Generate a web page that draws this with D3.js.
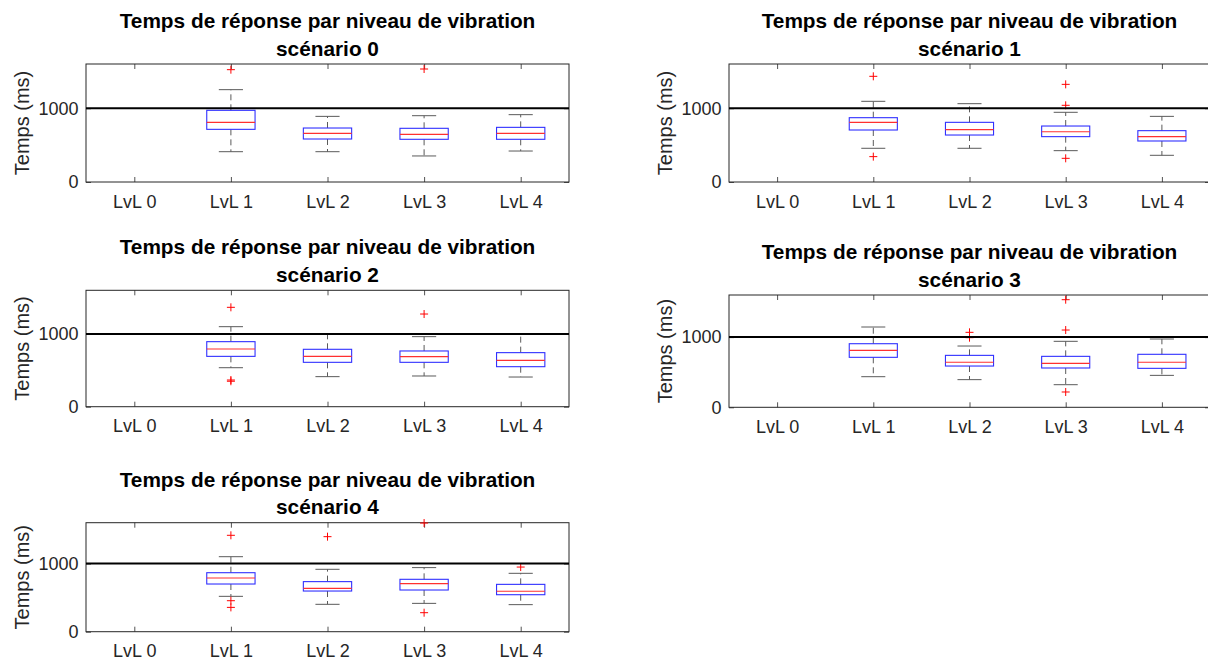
<html>
<head>
<meta charset="utf-8">
<script src="https://d3js.org/d3.v7.min.js"></script>
<style>
body { margin: 0; background: #fff; }
text { font-family: "Liberation Sans", Arial, Helvetica, sans-serif; }
</style>
</head>
<body>
<div id="chart"></div>
<script>
// categories and titles
const levels = ["LvL 0", "LvL 1", "LvL 2", "LvL 3", "LvL 4"];
const titleLine = "Temps de réponse par niveau de vibration";
const scenarioNames = ["scénario 0", "scénario 1", "scénario 2", "scénario 3", "scénario 4"];
const yTicks = [0, 1000];
const yMax = 1600;
const threshold = 1000;

// box statistics, one row per scenario, one value per level (LvL 0 is empty)
const whiskerLow = [
  [null, 411, 411, 353, 420],
  [null, 457, 457, 425, 362],
  [null, 536, 413, 422, 408],
  [null, 436, 394, 322, 455],
  [null, 519, 402, 416, 397]
];
const q1 = [
  [null, 714, 583, 579, 579],
  [null, 705, 637, 615, 556],
  [null, 692, 610, 610, 550],
  [null, 712, 588, 560, 555],
  [null, 700, 597, 612, 543]
];
const median = [
  [null, 809, 660, 646, 660],
  [null, 809, 710, 682, 615],
  [null, 793, 692, 688, 637],
  [null, 811, 641, 626, 641],
  [null, 788, 636, 705, 593]
];
const q3 = [
  [null, 972, 732, 728, 741],
  [null, 872, 809, 759, 696],
  [null, 894, 789, 766, 743],
  [null, 906, 740, 726, 755],
  [null, 866, 735, 769, 695]
];
const whiskerHigh = [
  [null, 1252, 890, 899, 913],
  [null, 1094, 1062, 945, 890],
  [null, 1100, 1000, 963, 1000],
  [null, 1144, 873, 940, 973],
  [null, 1101, 916, 941, 857]
];
const outliers = [
  [[], [1523], [], [1532], []],
  [[], [1433, 344], [], [1324, 1040, 321], []],
  [[], [1366, 367, 350], [], [1274], []],
  [[], [], [1068, 992], [1533, 1101, 218], []],
  [[], [1415, 455, 357], [1395], [1595, 279], [949]]
];

// subplot placement (pixels)
const panels = [
  {left: 86,  right: 569,  top: 64,    bottom: 182},
  {left: 729, right: 1210, top: 64,    bottom: 182},
  {left: 86,  right: 569,  top: 290.3, bottom: 406.7},
  {left: 729, right: 1210, top: 295,   bottom: 407.3},
  {left: 86,  right: 569,  top: 522.7, bottom: 631.7}
];

const w = 1208, h = 660;
const axisColor = "#262626";

const svg = d3.select("#chart").append("svg")
  .attr("width", w)
  .attr("height", h);

panels.forEach((p, s) => {
  const x = d3.scaleLinear().domain([0.5, levels.length + 0.5]).range([p.left, p.right]);
  const y = d3.scaleLinear().domain([0, yMax]).range([p.bottom, p.top]);
  const unit = x(2) - x(1);
  const g = svg.append("g");

  // x axes (inward ticks top and bottom)
  const xb = g.append("g")
    .attr("transform", `translate(0,${p.bottom})`)
    .call(d3.axisBottom(x).tickValues(d3.range(1, levels.length + 1))
      .tickFormat(i => levels[i - 1]).tickSize(-5).tickPadding(12.8));
  const xt = g.append("g")
    .attr("transform", `translate(0,${p.top})`)
    .call(d3.axisTop(x).tickValues(d3.range(1, levels.length + 1))
      .tickFormat("").tickSize(-5));
  const yl = g.append("g")
    .attr("transform", `translate(${p.left},0)`)
    .call(d3.axisLeft(y).tickValues(yTicks).tickFormat(d3.format("d"))
      .tickSize(-5).tickPadding(7.5));
  const yr = g.append("g")
    .attr("transform", `translate(${p.right},0)`)
    .call(d3.axisRight(y).tickValues(yTicks).tickFormat("").tickSize(-5));
  [xb, xt, yl, yr].forEach(a => {
    a.select(".domain").remove();
    a.selectAll("line").attr("stroke", axisColor).attr("stroke-width", 0.8);
    a.selectAll("text").attr("fill", axisColor).attr("font-size", 18);
  });
  g.append("rect")
    .attr("x", p.left).attr("y", p.top)
    .attr("width", p.right - p.left).attr("height", p.bottom - p.top)
    .attr("fill", "none").attr("stroke", axisColor).attr("stroke-width", 1);

  // boxes
  levels.forEach((lv, i) => {
    if (median[s][i] == null) return;
    const cx = x(i + 1);
    const bw = unit * 0.25, cw = unit * 0.125;
    const bx = g.append("g");
    // whiskers
    bx.append("line").attr("x1", cx).attr("x2", cx)
      .attr("y1", y(q3[s][i])).attr("y2", y(whiskerHigh[s][i]))
      .attr("stroke", "#5a5a5a").attr("stroke-dasharray", "6,4");
    bx.append("line").attr("x1", cx).attr("x2", cx)
      .attr("y1", y(q1[s][i])).attr("y2", y(whiskerLow[s][i]))
      .attr("stroke", "#5a5a5a").attr("stroke-dasharray", "6,4");
    [whiskerHigh[s][i], whiskerLow[s][i]].forEach(v => {
      bx.append("line").attr("x1", cx - cw).attr("x2", cx + cw)
        .attr("y1", y(v)).attr("y2", y(v))
        .attr("stroke", "#5a5a5a").attr("stroke-width", 1);
    });
    bx.append("rect")
      .attr("x", cx - bw).attr("width", 2 * bw)
      .attr("y", y(q3[s][i])).attr("height", y(q1[s][i]) - y(q3[s][i]))
      .attr("fill", "none").attr("stroke", "#3030ff").attr("stroke-width", 1.1);
    bx.append("line").attr("x1", cx - bw).attr("x2", cx + bw)
      .attr("y1", y(median[s][i])).attr("y2", y(median[s][i]))
      .attr("stroke", "#ff3030").attr("stroke-width", 1.1);
    outliers[s][i].forEach(v => {
      bx.append("path")
        .attr("d", `M${cx - 4},${y(v)}H${cx + 4}M${cx},${y(v) - 4}V${y(v) + 4}`)
        .attr("stroke", "#ff0000").attr("stroke-width", 1);
    });
  });

  // reference line
  g.append("line")
    .attr("x1", p.left).attr("x2", p.right)
    .attr("y1", y(threshold)).attr("y2", y(threshold))
    .attr("stroke", "#000").attr("stroke-width", 2);

  // titles and label
  const cxm = (p.left + p.right) / 2;
  const t = g.append("text").attr("text-anchor", "middle")
    .attr("font-weight", "bold").attr("font-size", 20.8).attr("fill", "#000");
  t.append("tspan").attr("x", cxm).attr("y", p.top - 36).text(titleLine);
  t.append("tspan").attr("x", cxm).attr("y", p.top - 8.5).text(scenarioNames[s]);

  g.append("text")
    .attr("transform", `translate(${p.left - 57},${(p.top + p.bottom) / 2}) rotate(-90)`)
    .attr("text-anchor", "middle")
    .attr("font-size", 20).attr("fill", axisColor)
    .text("Temps (ms)");
});
</script>
</body>
</html>
